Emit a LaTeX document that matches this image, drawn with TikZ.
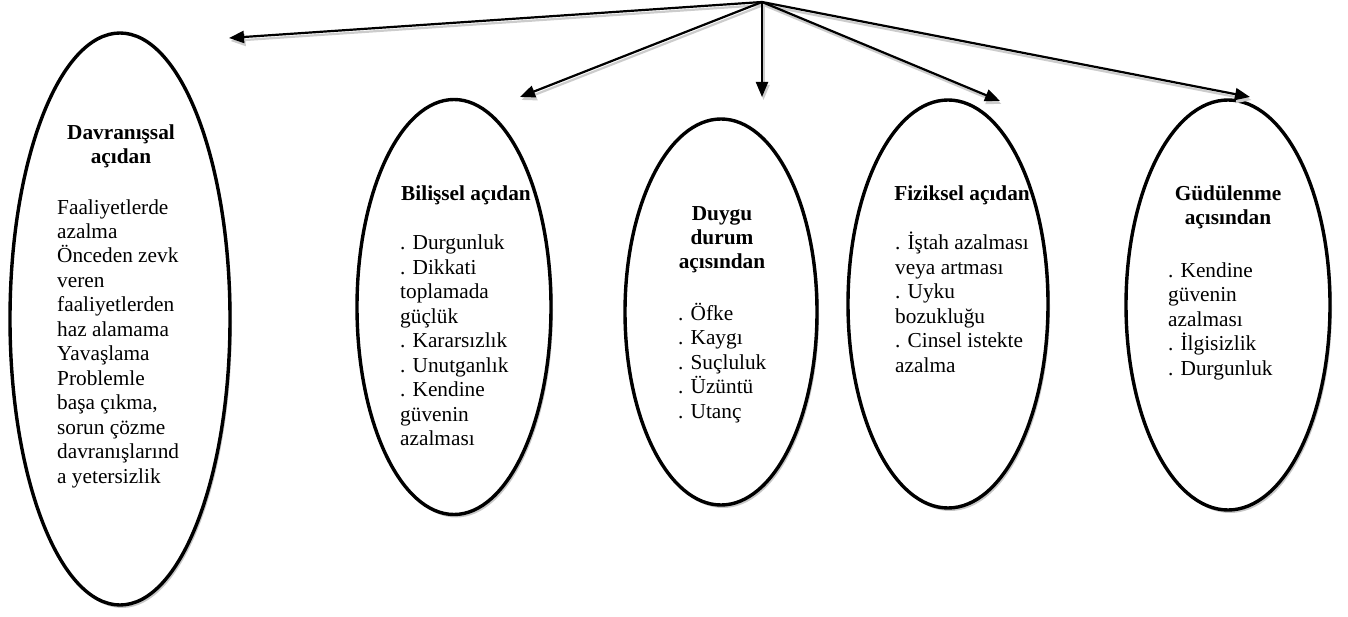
\documentclass[tikz,border=0pt]{standalone}
\usepackage{fontspec}
\setmainfont{Liberation Serif}
\usetikzlibrary{shapes.geometric,shadows,arrows.meta}
\begin{document}
\begin{tikzpicture}[x=1pt,y=-1pt,line join=round,
	oval/.style={ellipse,draw,line width=3.4pt,fill=white,inner sep=0pt,
		drop shadow={shadow xshift=2pt,shadow yshift=-3pt,fill=black!22,opacity=1}},
	arr/.style={-{Triangle[length=15pt,width=12pt]},line width=2.2pt},
	arrshade/.style={arr,draw=black!20,fill=black!20},
	head/.style={font=\bfseries\fontsize{21.3}{24.45}\selectfont,align=center,inner sep=0pt},
	body/.style={font=\fontsize{21.3}{24.45}\selectfont,align=left,inner sep=0pt}]
	\useasboundingbox (0,0) rectangle (1348,617);
	
	% ovals
	\node[oval,minimum width=220pt,minimum height=572pt] (davr) at (120,319) {};
	\node[oval,minimum width=194pt,minimum height=415pt] (bilis) at (454,307) {};
	\node[oval,minimum width=192pt,minimum height=386pt] (duygu) at (721,312) {};
	\node[oval,minimum width=200pt,minimum height=408pt] (fizik) at (948,304) {};
	\node[oval,minimum width=204pt,minimum height=410pt] (gudu) at (1228,305) {};
	
	% arrows from the top
	\coordinate (top) at (762,2);
	\coordinate (t1) at (229,38);
	\coordinate (t2) at (520,97);
	\coordinate (t3) at (762,97);
	\coordinate (t4) at (1000,101);
	\coordinate (t5) at (1250,97);
	\foreach \t in {t1,t2,t3,t4,t5}
		\draw[arrshade] ([shift={(1.5,3)}]top)--([shift={(1.5,3)}]\t);
	\foreach \t in {t1,t2,t3,t4,t5}
		\draw[arr] (top)--(\t);
	
	% texts (base = last line)
	\node[head,anchor=base] (h1) at (121,163.5) {Davranışsal\\açıdan};
	\node[body,anchor=base west] (b1) at (57,483) {Faaliyetlerde\\azalma\\Önceden zevk\\veren\\faaliyetlerden\\haz alamama\\Yavaşlama\\Problemle\\başa çıkma,\\sorun çözme\\davranışlarınd\\a yetersizlik};
	
	\node[head,anchor=base] (h2) at (466,201) {Bilişsel açıdan};
	\node[body,anchor=base west] (b2) at (400,445.5) {. Durgunluk\\. Dikkati\\toplamada\\güçlük\\. Kararsızlık\\. Unutganlık\\. Kendine\\güvenin\\azalması};
	
	\node[head,anchor=base] (h3) at (722,269) {Duygu\\durum\\açısından};
	\node[body,anchor=base west] (b3) at (678,418) {. Öfke\\. Kaygı\\. Suçluluk\\. Üzüntü\\. Utanç};
	
	\node[head,anchor=base] (h4) at (962,201) {Fiziksel açıdan};
	\node[body,anchor=base west] (b4) at (895,372) {. İştah azalması\\veya artması\\. Uyku\\bozukluğu\\. Cinsel istekte\\azalma};
	
	\node[head,anchor=base] (h5) at (1228,224.5) {Güdülenme\\açısından};
	\node[body,anchor=base west] (b5) at (1168,375) {. Kendine\\güvenin\\azalması\\. İlgisizlik\\. Durgunluk};
\end{tikzpicture}
\end{document}
